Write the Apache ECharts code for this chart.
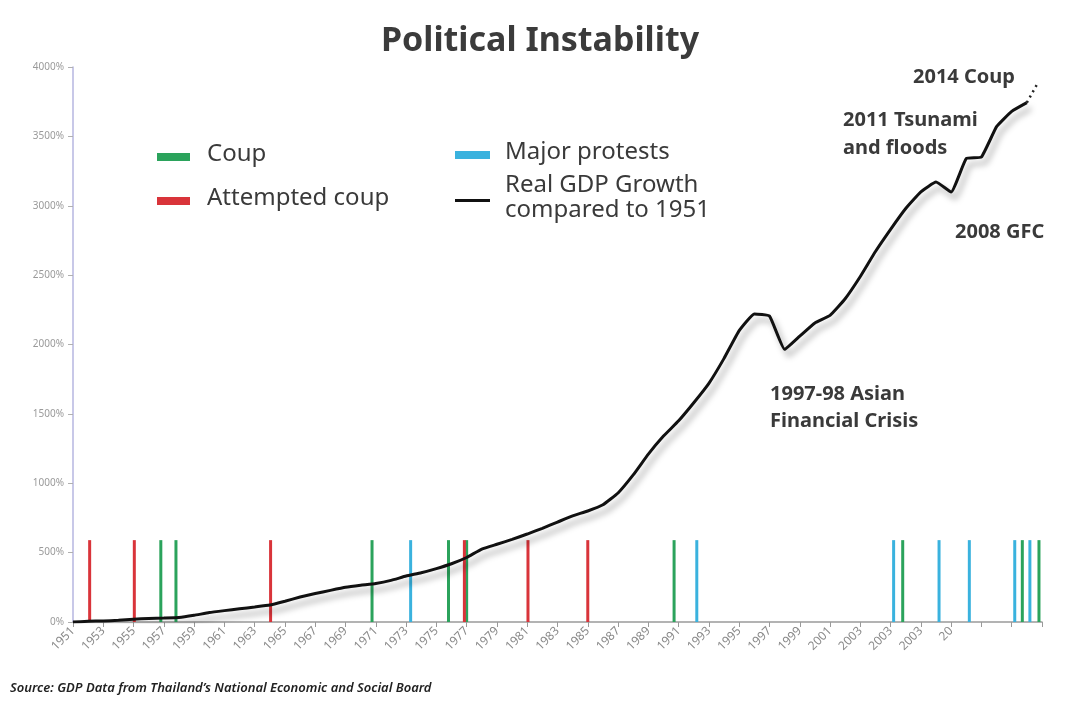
<!DOCTYPE html>
<html>
<head>
<meta charset="utf-8">
<script src="https://cdn.jsdelivr.net/npm/echarts@6/dist/echarts.min.js"></script>
<style>
html,body{margin:0;padding:0;background:#fff;}
#chart{width:1080px;height:704px;}
</style>
</head>
<body>
<div id="chart"></div>
<script>
// GDP growth relative to 1951 (%)
var gdpYears = [1951,1952,1953,1954,1955,1956,1957,1958,1959,1960,1961,1962,1963,1964,1965,1966,1967,1968,1969,1970,1971,1972,1973,1974,1975,1976,1977,1978,1979,1980,1981,1982,1983,1984,1985,1986,1987,1988,1989,1990,1991,1992,1993,1994,1995,1996,1997,1998,1999,2000,2001,2002,2003,2004,2005,2006,2007,2008,2009,2010,2011,2012,2013,2014];
var gdpValues = [0,5,8,12,20,25,28,32,48,68,82,95,108,122,150,180,205,228,250,265,278,300,331,355,385,420,465,525,560,595,634,675,720,765,800,845,930,1060,1210,1340,1450,1580,1720,1900,2100,2220,2205,1965,2060,2155,2210,2330,2490,2670,2830,2980,3100,3171,3099,3340,3352,3570,3680,3743];
// dotted continuation after 2014
var projYears = [2014, 2014.7];
var projValues = [3743, 3880];

// event markers (year positions as drawn)
var eventHeight = 590;
var coupYears = [1956.8, 1957.8, 1970.75, 1975.8, 1977.0, 1990.7, 2005.8, 2013.7, 2014.8];
var attemptedYears = [1952.1, 1955.05, 1964.05, 1976.85, 1981.05, 1985.0];
var protestYears = [1973.3, 1992.2, 2005.2, 2008.2, 2010.2, 2013.2, 2014.2];

// x tick labels as printed (every 2 years from 1951)
var xTickLabels = ["1951","1953","1955","1957","1959","1961","1963","1965","1967","1969","1971","1973","1975","1977","1979","1981","1983","1985","1987","1989","1991","1993","1995","1997","1999","2001","2003","2003","2003","20","","",""];

function pairs(xs, ys){ return xs.map(function(x,i){ return [x, ys[i]]; }); }
function events(xs){ return xs.map(function(x){ return [x, eventHeight]; }); }

var cGreen = '#2ba35c', cRed = '#d9343a', cBlue = '#3ab2de';
var txt = '#3a3a3a';
var annFont = 'bold 20px "Noto Sans"';

var chart = echarts.init(document.getElementById('chart'), null, {renderer:'canvas'});
chart.setOption({
  backgroundColor:'#ffffff',
  animation:false,
  title:{
    text:'Political Instability', left:'center', top:19,
    textStyle:{fontFamily:'Noto Sans', fontSize:34, fontWeight:'bold', color:'#3b3b3b'}
  },
  grid:{left:73, right:38, top:67, bottom:82},
  xAxis:{
    type:'value', min:1951, max:2015, interval:2,
    axisLine:{lineStyle:{color:'#9a9a9a', width:1.5}},
    axisTick:{show:true, length:5, lineStyle:{color:'#9a9a9a'}},
    splitLine:{show:false},
    axisLabel:{
      rotate:45, fontSize:12, color:'#8a8a8a', fontFamily:'Noto Sans', margin:7,
      formatter:function(v){ var i = Math.round((v-1951)/2); return xTickLabels[i] || ''; }
    }
  },
  yAxis:{
    type:'value', min:0, max:4000, interval:500,
    axisLine:{show:true, lineStyle:{color:'#b6b6e0', width:1.5}},
    axisTick:{show:true, length:5, lineStyle:{color:'#b0b0b0'}},
    splitLine:{show:false},
    axisLabel:{formatter:function(v){ return v + '%'; }, fontSize:10, color:'#9a9a9a', fontFamily:'Noto Sans', margin:9}
  },
  series:[
    {name:'Coup', type:'bar', data:events(coupYears), barWidth:3, barGap:'-100%', itemStyle:{color:cGreen}, z:2},
    {name:'Attempted coup', type:'bar', data:events(attemptedYears), barWidth:3, barGap:'-100%', itemStyle:{color:cRed}, z:2},
    {name:'Major protests', type:'bar', data:events(protestYears), barWidth:3, barGap:'-100%', itemStyle:{color:cBlue}, z:2},
    {name:'Real GDP Growth compared to 1951', type:'line', data:pairs(gdpYears,gdpValues), smooth:0.12, symbol:'none',
      lineStyle:{color:'#111', width:3, shadowColor:'rgba(0,0,0,0.35)', shadowBlur:6, shadowOffsetX:4, shadowOffsetY:6}, z:5},
    {name:'projection', type:'line', data:pairs(projYears,projValues), symbol:'none',
      lineStyle:{color:'#222', width:2.5, type:[2,4]}, z:5}
  ],
  graphic:[
    // legend
    {type:'rect', left:157, top:153, shape:{width:33, height:8}, style:{fill:cGreen}},
    {type:'text', left:207, top:142, style:{text:'Coup', font:'24px "Noto Sans"', fill:txt}},
    {type:'rect', left:157, top:197, shape:{width:33, height:8}, style:{fill:cRed}},
    {type:'text', left:207, top:186, style:{text:'Attempted coup', font:'24px "Noto Sans"', fill:txt}},
    {type:'rect', left:455, top:151, shape:{width:35, height:8}, style:{fill:cBlue}},
    {type:'text', left:505, top:140, style:{text:'Major protests', font:'24px "Noto Sans"', fill:txt}},
    {type:'rect', left:455, top:199, shape:{width:35, height:3}, style:{fill:'#111'}},
    {type:'text', left:505, top:173, style:{text:'Real GDP Growth\ncompared to 1951', font:'24px "Noto Sans"', fill:txt, lineHeight:25}},
    // annotations
    {type:'text', left:913, top:67, style:{text:'2014 Coup', font:annFont, fill:txt}},
    {type:'text', left:843, top:106, style:{text:'2011 Tsunami\nand floods', font:annFont, fill:txt, lineHeight:28}},
    {type:'text', left:955, top:222, style:{text:'2008 GFC', font:annFont, fill:txt}},
    {type:'text', left:770, top:381, style:{text:'1997-98 Asian\nFinancial Crisis', font:annFont, fill:txt, lineHeight:27}},
    // source
    {type:'text', left:10, top:682, style:{text:'Source: GDP Data from Thailand\u2019s National Economic and Social Board', font:'italic 600 13px "Noto Sans"', fill:'#222'}}
  ]
});
</script>
</body>
</html>
